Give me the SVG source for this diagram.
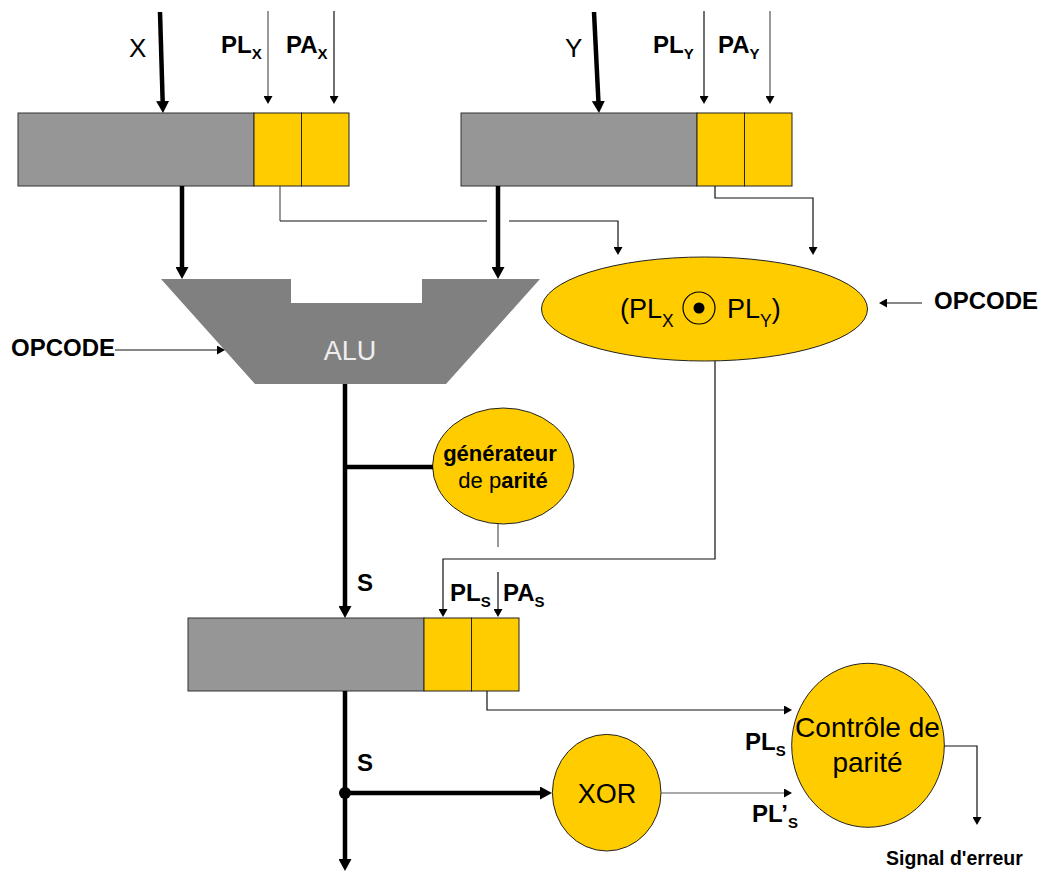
<svg xmlns="http://www.w3.org/2000/svg" width="1043" height="872" viewBox="0 0 1043 872">
<style>
text{font-family:"Liberation Sans",Arial,sans-serif;fill:#000}
.b{font-weight:bold;font-size:24px}
.sub{font-size:15px}
.reg{fill:#969696;stroke:#333;stroke-width:1}
.cell{fill:#FFCC00;stroke:#222;stroke-width:1}
.yel{fill:#FFCC00;stroke:#222;stroke-width:1}
.thin{fill:none;stroke:#111;stroke-width:1.2}
.gray{stroke:#555}
.thick{fill:none;stroke:#000;stroke-width:4.5}
</style>
<defs>
<marker id="ah" markerUnits="userSpaceOnUse" markerWidth="8" markerHeight="9" viewBox="0 0 8 9" refX="0" refY="4.5" orient="auto"><path d="M0,0 L8,4.5 L0,9 z" fill="#000"/></marker>
<marker id="ahT" markerUnits="userSpaceOnUse" markerWidth="12" markerHeight="13" viewBox="0 0 12 13" refX="0" refY="6.5" orient="auto"><path d="M0,0 L12,6.5 L0,13 z" fill="#000"/></marker>
</defs>

<g id="regX">
<rect class="reg" x="18" y="113" width="236" height="73"/>
<rect class="cell" x="254" y="113" width="47.5" height="73"/>
<rect class="cell" x="301.5" y="113" width="47.5" height="73"/>
</g>
<g id="regY">
<rect class="reg" x="461" y="113" width="236" height="73"/>
<rect class="cell" x="697" y="113" width="47.5" height="73"/>
<rect class="cell" x="744.5" y="113" width="47.5" height="73"/>
</g>
<g id="regS">
<rect class="reg" x="188" y="618" width="236" height="73"/>
<rect class="cell" x="424" y="618" width="47.5" height="73"/>
<rect class="cell" x="471.5" y="618" width="47.5" height="73"/>
</g>
<g id="alu">
<polygon points="161,279 291,279 291,303 422,303 422,279 540,279 446,384 255,384" fill="#808080"/>
<text x="350" y="360" text-anchor="middle" font-size="27" style="fill:#eeeeee">ALU</text>
</g>
<g id="plop">
<ellipse class="yel" cx="704.5" cy="309" rx="163" ry="52"/>
<text x="620" y="318" font-size="27">(PL<tspan font-size="17.5" dy="8.7">X</tspan></text>
<circle cx="699" cy="308" r="16" fill="none" stroke="#000" stroke-width="1.2"/>
<circle cx="699" cy="308" r="5.5" fill="#000"/>
<text x="727" y="318" font-size="27">PL<tspan font-size="17.5" dy="8.7">Y</tspan><tspan dy="-8.7">)</tspan></text>
</g>
<g id="gen">
<ellipse class="yel" cx="503.3" cy="466" rx="70.7" ry="58"/>
<text x="500" y="461" text-anchor="middle" font-size="22" font-weight="bold">générateur</text>
<text x="503" y="488" text-anchor="middle" font-size="22">de p<tspan font-weight="bold">arité</tspan></text>
</g>
<g id="xor">
<ellipse class="yel" cx="606.7" cy="792.7" rx="54.3" ry="58.3"/>
<text x="607" y="803" text-anchor="middle" font-size="27">XOR</text>
</g>
<g id="ctrl">
<ellipse class="yel" cx="868" cy="745.3" rx="76.3" ry="82"/>
<text x="867.5" y="737" text-anchor="middle" font-size="28">Contrôle de</text>
<text x="867.5" y="772" text-anchor="middle" font-size="28">parité</text>
</g>

<g id="connectors">
<line class="thick" x1="160" y1="12" x2="162.64" y2="101" marker-end="url(#ahT)"/>
<line class="thick" x1="594" y1="12" x2="598.4" y2="101" marker-end="url(#ahT)"/>
<line class="thick" x1="182" y1="186" x2="182" y2="267" marker-end="url(#ahT)"/>
<line class="thick" x1="498" y1="186" x2="498" y2="267" marker-end="url(#ahT)"/>
<line class="thick" x1="345" y1="384" x2="345" y2="606" marker-end="url(#ahT)"/>
<line class="thick" x1="345" y1="467" x2="433" y2="467"/>
<line class="thick" x1="345" y1="691" x2="345" y2="859" marker-end="url(#ahT)"/>
<line class="thick" x1="345" y1="793" x2="540" y2="793" marker-end="url(#ahT)"/>
<circle cx="345" cy="793" r="6" fill="#000"/>

<line class="thin gray" x1="268" y1="11" x2="268" y2="96" marker-end="url(#ah)"/>
<line class="thin" x1="334" y1="11" x2="334" y2="96" marker-end="url(#ah)"/>
<line class="thin" x1="704" y1="11" x2="704" y2="96" marker-end="url(#ah)"/>
<line class="thin gray" x1="770" y1="11" x2="770" y2="96" marker-end="url(#ah)"/>
<line class="thin gray" x1="280" y1="186" x2="280" y2="221"/>
<line class="thin" x1="280" y1="221" x2="487" y2="221"/>
<polyline class="thin" points="509,221 618,221 618,247" marker-end="url(#ah)"/>
<polyline class="thin" points="715,186 715,198 813,198 813,247" marker-end="url(#ah)"/>
<line class="thin" x1="922" y1="303" x2="887" y2="303" marker-end="url(#ah)"/>
<line class="thin" x1="115" y1="350" x2="217" y2="350" marker-end="url(#ah)"/>
<polyline class="thin" points="715,361 715,559 443,559 443,609" marker-end="url(#ah)"/>
<line class="thin gray" x1="498" y1="524" x2="498" y2="547"/>
<line class="thin" x1="498" y1="572" x2="498" y2="609" marker-end="url(#ah)"/>
<polyline class="thin" points="487,691 487,710 784,710" marker-end="url(#ah)"/>
<line class="thin gray" x1="661" y1="793" x2="784" y2="793" marker-end="url(#ah)"/>
<polyline class="thin" points="944,746 977,746 977,817" marker-end="url(#ah)"/>
</g>

<g id="labels">
<text x="129" y="57" font-size="26">X</text>
<text x="565" y="57" font-size="26">Y</text>
<text class="b" x="221" y="53">PL<tspan class="sub" dy="6">X</tspan></text>
<text class="b" x="286" y="53">PA<tspan class="sub" dy="6">X</tspan></text>
<text class="b" x="653" y="53">PL<tspan class="sub" dy="6">Y</tspan></text>
<text class="b" x="718" y="53">PA<tspan class="sub" dy="6">Y</tspan></text>
<text class="b" x="11" y="356">OPCODE</text>
<text class="b" x="934" y="309">OPCODE</text>
<text class="b" x="357" y="591">S</text>
<text class="b" x="357" y="771">S</text>
<text class="b" x="450" y="601">PL<tspan class="sub" dy="6">S</tspan></text>
<text class="b" x="503" y="601">PA<tspan class="sub" dy="6">S</tspan></text>
<text class="b" x="745" y="750">PL<tspan class="sub" dy="6">S</tspan></text>
<text class="b" x="752" y="822">PL’<tspan class="sub" dy="6">S</tspan></text>
<text x="886" y="865" font-size="19.5" font-weight="bold">Signal d'erreur</text>
</g>
</svg>
